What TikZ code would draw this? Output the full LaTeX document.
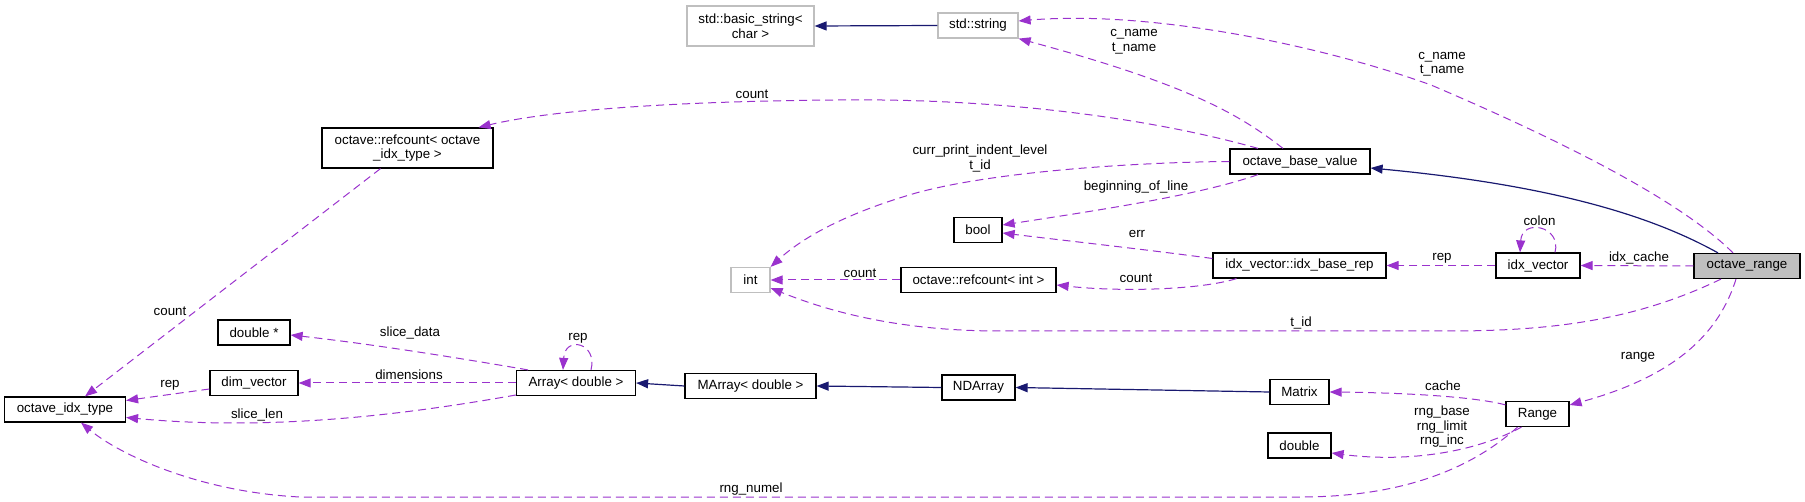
\documentclass[tikz,border=0pt]{standalone}
\usepackage{fontspec}
\setmainfont{Liberation Sans}
\usepackage{xcolor}
\usetikzlibrary{arrows.meta}
\definecolor{usecol}{HTML}{9A32CD}
\definecolor{inhcol}{HTML}{191970}
\definecolor{extcol}{HTML}{BFBFBF}

\begin{document}
\begin{tikzpicture}[x=1pt, y=-1pt,
  font=\fontsize{13.33}{14.5}\selectfont,
  cls/.style={draw, line width=1.2pt, minimum height=25pt, inner sep=0pt, align=center},
  ext/.style={cls, draw=extcol},
  me/.style={cls, fill=extcol},
  use/.style={-{Triangle[length=12pt,width=9pt]}, usecol, dash pattern=on 8pt off 5pt, line width=1pt},
  inh/.style={-{Triangle[length=12pt,width=9pt]}, inhcol, line width=1.2pt},
  lbl/.style={inner sep=0pt, align=center, text=black}
]
\useasboundingbox (0,0) rectangle (1805,502);

\node[ext, minimum width=127pt, minimum height=40pt] (basestr) at (750.5,26) {std::basic\_string<\\char >};
\node[ext, minimum width=80pt]  (stdstr) at (978,25.5)    {std::string};
\node[cls, minimum width=171pt, minimum height=40pt] (rcidx) at (407.5,148) {octave::refcount< octave\\\_idx\_type >};
\node[cls, minimum width=140pt] (obv)    at (1300,161.5)  {octave\_base\_value};
\node[cls, minimum width=48pt]  (boolt)  at (978,230)     {bool};
\node[ext, minimum width=39pt]  (intt)   at (750.5,280)   {int};
\node[cls, minimum width=155pt] (rcint)  at (978.5,280)   {octave::refcount< int >};
\node[cls, minimum width=173pt] (ibrep)  at (1299.5,265.5){idx\_vector::idx\_base\_rep};
\node[cls, minimum width=84pt]  (idxv)   at (1538,265.5)  {idx\_vector};
\node[me,  minimum width=106pt] (orng)   at (1747,266)    {octave\_range};
\node[cls, minimum width=72pt]  (dblp)   at (254,332.5)   {double *};
\node[cls, minimum width=88pt]  (dimv)   at (254,383)     {dim\_vector};
\node[cls, minimum width=119pt] (arr)    at (576,383)     {Array< double >};
\node[cls, minimum width=131pt] (marr)   at (750.5,386)   {MArray< double >};
\node[cls, minimum width=73pt]  (ndarr)  at (978.5,387.5) {NDArray};
\node[cls, minimum width=59pt]  (mat)    at (1299.5,392)  {Matrix};
\node[cls, minimum width=63pt]  (rng)    at (1537.5,414)  {Range};
\node[cls, minimum width=121pt] (oidx)   at (65,409.5)    {octave\_idx\_type};
\node[cls, minimum width=63pt]  (dbl)    at (1299.5,445.5){double};

\draw[inh] (stdstr.west) -- (basestr.east);
\draw[use] ([xshift=-14pt]orng.north) .. controls (1680,200) and (1560,140) .. (1431,85)
  .. controls (1320,45) and (1150,10) .. ([yshift=4.5pt]stdstr.east)
  node[lbl] at (1442,64) {c\_name\\t\_name};
\draw[use] ([xshift=-17pt]obv.north) .. controls (1240,115) and (1190,85) .. (stdstr.south east)
  node[lbl] at (1134,41.5) {c\_name\\t\_name};
\draw[use] ([xshift=-42pt]obv.north) .. controls (1150,118) and (1000,98) .. (837,100)
  .. controls (700,101) and (560,108) .. ([xshift=-15pt]rcidx.north east)
  node[lbl] at (752,94) {count};
\draw[use] (obv.west) .. controls (1150,162) and (1000,170) .. (916,193)
  .. controls (840,215) and (800,240) .. (intt.north east)
  node[lbl] at (980,158.5) {curr\_print\_indent\_level\\t\_id};
\draw[use] ([xshift=-42pt]obv.south) .. controls (1200,195) and (1100,210) .. ([yshift=5pt]boolt.east)
  node[lbl] at (1136,187) {beginning\_of\_line};
\draw[use] ([yshift=7pt]ibrep.west) .. controls (1150,250) and (1060,240) .. ([yshift=-3pt]boolt.east)
  node[lbl] at (1137,234) {err};
\draw[use] ([xshift=-63pt]ibrep.south) .. controls (1200,290) and (1120,292) .. ([yshift=-5pt]rcint.east)
  node[lbl] at (1136,278) {count};
\draw[use] (rcint.west) -- (intt.east) node[lbl] at (860,273) {count};
\draw[use] ([xshift=-26pt]orng.south) .. controls (1640,318) and (1560,331) .. (1450,331) -- (1000,331)
  .. controls (900,331) and (830,312) .. ([yshift=-8pt]intt.east)
  node[lbl] at (1301,323) {t\_id};
\draw[inh] ([xshift=-29pt]orng.north) .. controls (1650,215) and (1550,185) .. ([yshift=-6.5pt]obv.east);
\draw[use] (idxv.west) -- (ibrep.east) node[lbl] at (1442,258) {rep};
\draw[use] ([xshift=17pt]idxv.north) .. controls (1562,226) and (1522,218) .. ([xshift=-18pt]idxv.north)
  node[lbl] at (1539.5,221) {colon};
\draw[use] (orng.west) -- (idxv.east) node[lbl] at (1639,258) {idx\_cache};
\draw[use] ([xshift=-11pt]orng.south) .. controls (1720,330) and (1680,375) .. ([yshift=9pt]rng.east)
  node[lbl] at (1638,357) {range};
\draw[use] ([yshift=-4pt]rng.north west) .. controls (1480,398) and (1420,393) .. (mat.east)
  node[lbl] at (1443,386) {cache};
\draw[use] ([xshift=-16pt]rng.south) .. controls (1470,455) and (1400,462) .. ([yshift=-7.5pt]dbl.east)
  node[lbl] at (1442,427) {rng\_base\\rng\_limit\\rng\_inc};
\draw[use] ([xshift=-20pt]rng.south) .. controls (1470,470) and (1400,497) .. (1300,497) -- (300,497)
  .. controls (200,492) and (120,455) .. ([xshift=16pt]oidx.south)
  node[lbl] at (751,489) {rng\_numel};
\draw[inh] (mat.west) -- (ndarr.east);
\draw[inh] (ndarr.west) -- (marr.east);
\draw[inh] (marr.west) -- (arr.east);
\draw[use] ([xshift=15pt]arr.north) .. controls (598,343) and (565,335) .. ([xshift=-13pt]arr.north)
  node[lbl] at (578,338) {rep};
\draw[use] ([xshift=-48pt]arr.north) .. controls (470,360) and (380,345) .. ([yshift=-2.5pt]dblp.east)
  node[lbl] at (410,333) {slice\_data};
\draw[use] (arr.west) -- (dimv.east) node[lbl] at (409,375) {dimensions};
\draw[use] ([yshift=-12pt]arr.west) .. controls (420,412) and (280,432) .. ([yshift=-8pt]oidx.east)
  node[lbl] at (257,415) {slice\_len};
\draw[use] ([yshift=-6pt]dimv.west) -- ([yshift=9pt]oidx.east) node[lbl] at (170,385) {rep};
\draw[use] ([xshift=-27pt]rcidx.south) -- ([xshift=20pt]oidx.north) node[lbl] at (170,311) {count};

\end{tikzpicture}
\end{document}
